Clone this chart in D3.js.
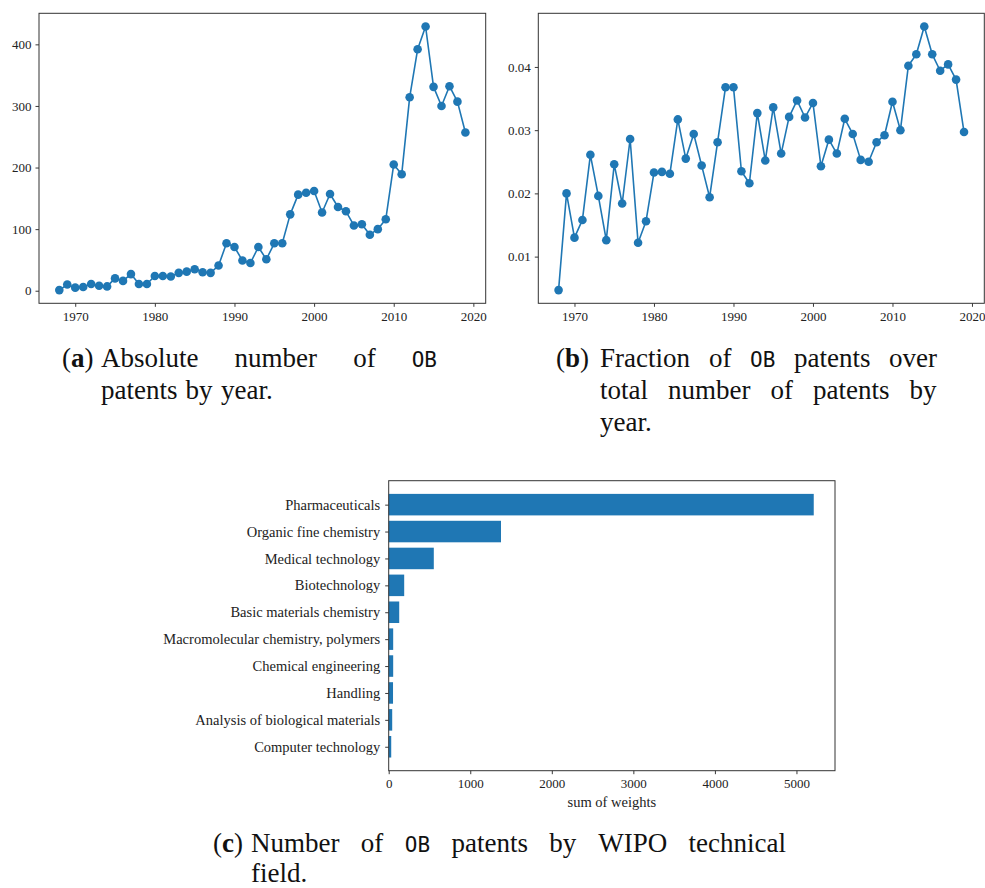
<!DOCTYPE html>
<html>
<head>
<meta charset="utf-8">
<script src="https://cdn.jsdelivr.net/npm/d3@7"></script>
<style>
  html, body { margin: 0; padding: 0; background: #fff; }
  svg { display: block; }
  .tick-label { font-family: "Liberation Serif", "Times New Roman", serif; font-size: 13px; fill: #222; }
  .cat-label { font-family: "Liberation Serif", "Times New Roman", serif; font-size: 14.5px; fill: #222; }
  .caption { font-family: "Liberation Serif", "Times New Roman", serif; font-size: 27px; fill: #111; }
  .mono { font-family: "DejaVu Sans Mono", "Liberation Mono", monospace; font-size: 21px; }
</style>
</head>
<body>
<svg id="fig" width="985" height="888"></svg>
<script>
// Yearly series, 1968–2019
const years = d3.range(1968, 2020);
const obCounts = [
  1, 10, 5, 6, 11, 8, 7, 20, 16, 27,
  11, 11, 24, 24, 23, 29, 31, 35, 30, 29,
  41, 77, 71, 49, 45, 71, 51, 77, 77, 124,
  156, 159, 162, 127, 157, 136, 129, 106, 108, 91,
  100, 116, 205, 189, 314, 392, 429, 331, 300, 332,
  307, 257
];
const obFractions = [
  0.0047, 0.0200, 0.0130, 0.0158, 0.0261, 0.0196, 0.0126, 0.0246, 0.0184, 0.0286,
  0.0122, 0.0156, 0.0233, 0.0234, 0.0231, 0.0317, 0.0255, 0.0294, 0.0244, 0.0194,
  0.0281, 0.0368, 0.0368, 0.0235, 0.0216, 0.0327, 0.0252, 0.0336, 0.0263, 0.0321,
  0.0347, 0.0320, 0.0343, 0.0243, 0.0285, 0.0263, 0.0318, 0.0294, 0.0253, 0.0250,
  0.0281, 0.0292, 0.0345, 0.0300, 0.0402, 0.0420, 0.0464, 0.0420, 0.0394, 0.0404,
  0.0380, 0.0297
];

// WIPO technical fields, largest first
const fields = [
  "Pharmaceuticals",
  "Organic fine chemistry",
  "Medical technology",
  "Biotechnology",
  "Basic materials chemistry",
  "Macromolecular chemistry, polymers",
  "Chemical engineering",
  "Handling",
  "Analysis of biological materials",
  "Computer technology"
];
const fieldWeights = [5212, 1377, 553, 190, 129, 55, 55, 53, 43, 31];

// Tick values
const yearTicks = [1970, 1980, 1990, 2000, 2010, 2020];
const countTicks = [0, 100, 200, 300, 400];
const fractionTicks = [0.01, 0.02, 0.03, 0.04];
const weightTicks = [0, 1000, 2000, 3000, 4000, 5000];

const BLUE = "#1f77b4";
const INK = "#222";
const svg = d3.select("#fig");
svg.append("rect").attr("width", 985).attr("height", 888).attr("fill", "#fff");

// pad a data extent by 5% on each side
function padded(lo, hi) {
  const m = (hi - lo) * 0.05;
  return [lo - m, hi + m];
}

function styleAxis(g) {
  g.select(".domain").remove();
  g.selectAll(".tick line").attr("stroke", INK).attr("stroke-width", 0.9);
  g.selectAll(".tick text").attr("class", "tick-label").attr("fill", INK);
}

function frame(box) {
  svg.append("rect")
    .attr("x", box.x0).attr("y", box.y0)
    .attr("width", box.x1 - box.x0).attr("height", box.y1 - box.y0)
    .attr("fill", "none").attr("stroke", "#333").attr("stroke-width", 1);
}

function linePanel(box, values, yTicks, yFormat) {
  const x = d3.scaleLinear().domain(padded(years[0], years[years.length - 1])).range([box.x0, box.x1]);
  const y = d3.scaleLinear().domain(padded(d3.min(values), d3.max(values))).range([box.y1, box.y0]);

  const gx = svg.append("g").attr("transform", `translate(0,${box.y1})`)
    .call(d3.axisBottom(x).tickValues(yearTicks).tickFormat(d3.format("d")).tickSizeOuter(0).tickSize(3.5).tickPadding(5));
  styleAxis(gx);
  const gy = svg.append("g").attr("transform", `translate(${box.x0},0)`)
    .call(d3.axisLeft(y).tickValues(yTicks).tickFormat(yFormat).tickSizeOuter(0).tickSize(3.5).tickPadding(4));
  styleAxis(gy);

  const pts = years.map((yr, i) => [yr, values[i]]);
  svg.append("path")
    .datum(pts)
    .attr("fill", "none").attr("stroke", BLUE).attr("stroke-width", 1.6)
    .attr("stroke-linejoin", "round")
    .attr("d", d3.line().x(d => x(d[0])).y(d => y(d[1])));
  svg.append("g").selectAll("circle").data(pts).join("circle")
    .attr("cx", d => x(d[0])).attr("cy", d => y(d[1])).attr("r", 4.3)
    .attr("fill", BLUE);

  frame(box);
}

// (a) absolute counts
linePanel({ x0: 39, x1: 485.7, y0: 13.3, y1: 303.3 }, obCounts, countTicks, d3.format("d"));
// (b) fractions
linePanel({ x0: 538.3, x1: 984.3, y0: 13.3, y1: 303.3 }, obFractions, fractionTicks, d3.format(".2f"));

// (c) horizontal bars by technical field
(function () {
  const box = { x0: 388.7, x1: 835, y0: 480.7, y1: 770.7 };
  const x = d3.scaleLinear().domain([0, d3.max(fieldWeights) * 1.05]).range([box.x0, box.x1]);
  const n = fields.length;
  const half = 0.4;
  const span = (n - 1) + 2 * half;
  const y = d3.scaleLinear()
    .domain([-half - span * 0.05, (n - 1) + half + span * 0.05])
    .range([box.y0, box.y1]);

  svg.append("g").selectAll("rect").data(fields).join("rect")
    .attr("x", x(0))
    .attr("y", (d, i) => y(i - half))
    .attr("width", (d, i) => x(fieldWeights[i]) - x(0))
    .attr("height", (d, i) => y(i + half) - y(i - half))
    .attr("fill", BLUE);

  const gx = svg.append("g").attr("transform", `translate(0,${box.y1})`)
    .call(d3.axisBottom(x).tickValues(weightTicks).tickFormat(d3.format("d")).tickSizeOuter(0).tickSize(3.5).tickPadding(5));
  styleAxis(gx);

  const gy = svg.append("g").attr("transform", `translate(${box.x0},0)`)
    .call(d3.axisLeft(y).tickValues(d3.range(n)).tickFormat(i => fields[i]).tickSizeOuter(0).tickSize(3.5).tickPadding(5));
  styleAxis(gy);
  gy.selectAll(".tick text").attr("class", "cat-label");

  svg.append("text")
    .attr("class", "cat-label")
    .attr("x", (box.x0 + box.x1) / 2).attr("y", 806.5)
    .attr("text-anchor", "middle")
    .text("sum of weights");

  frame(box);
})();

// Sub-figure captions: hanging label, justified lines
function caption(label, labelX, textX, textRight, firstBaseline, lineGap, lines) {
  const lab = svg.append("text").attr("class", "caption").attr("x", labelX).attr("y", firstBaseline);
  lab.append("tspan").text("(");
  lab.append("tspan").attr("font-weight", "bold").text(label);
  lab.append("tspan").text(")");

  lines.forEach((line, li) => {
    const yb = firstBaseline + li * lineGap;
    const g = svg.append("g");
    const words = line.words.map(w => {
      const t = g.append("text").attr("class", "caption").attr("y", yb);
      if (w === "OB") t.append("tspan").attr("class", "mono").text(w);
      else t.text(w);
      return t;
    });
    const widths = words.map(t => t.node().getBBox().width);
    const total = d3.sum(widths);
    const spaceW = 8;
    const gap = line.justify && words.length > 1
      ? (textRight - textX - total) / (words.length - 1)
      : spaceW;
    let cx = textX;
    words.forEach((t, i) => {
      t.attr("x", cx);
      cx += widths[i] + gap;
    });
  });
}

caption("a", 62, 101, 437, 367, 32, [
  { words: ["Absolute", "number", "of", "OB"], justify: true },
  { words: ["patents", "by", "year."], justify: false }
]);
caption("b", 556, 600, 937, 367, 32, [
  { words: ["Fraction", "of", "OB", "patents", "over"], justify: true },
  { words: ["total", "number", "of", "patents", "by"], justify: true },
  { words: ["year."], justify: false }
]);
caption("c", 213, 251, 786, 852, 30, [
  { words: ["Number", "of", "OB", "patents", "by", "WIPO", "technical"], justify: true },
  { words: ["field."], justify: false }
]);
</script>
</body>
</html>
